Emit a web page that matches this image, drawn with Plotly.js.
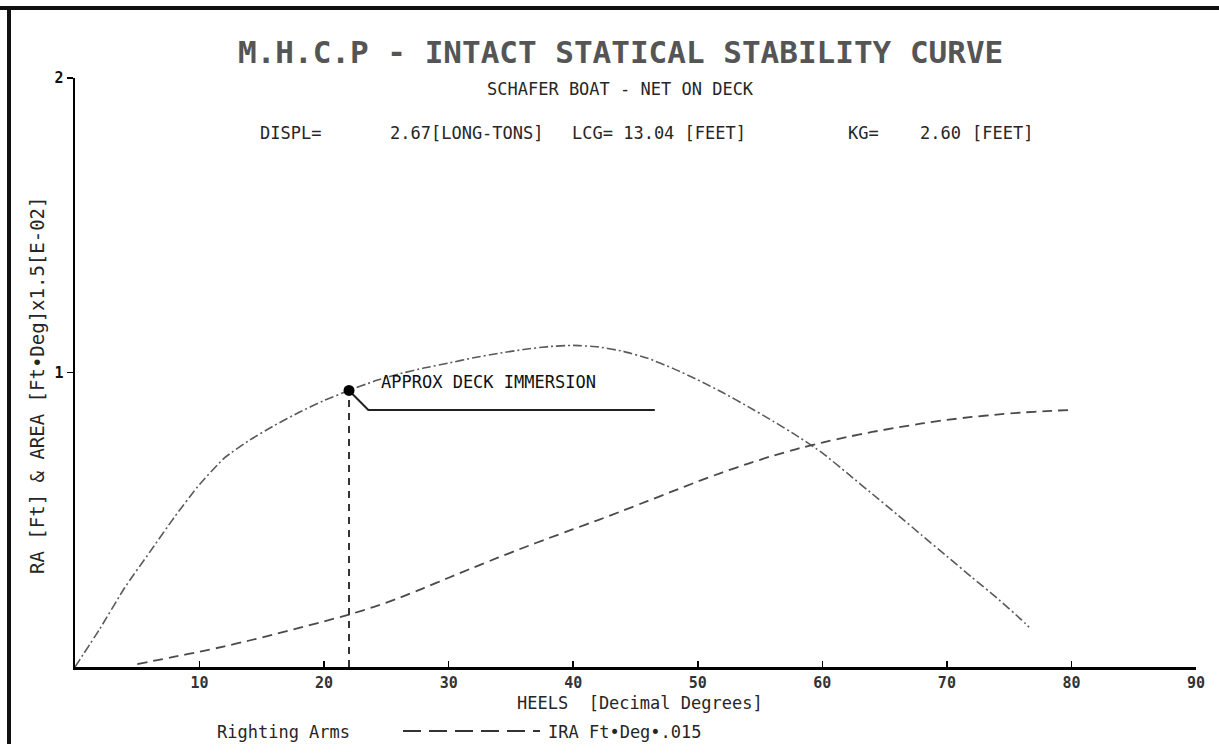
<!DOCTYPE html>
<html>
<head>
<meta charset="utf-8">
<script src="https://cdn.plot.ly/plotly-3.0.1.min.js"></script>
<style>
  html, body { margin: 0; padding: 0; background: #fff; }
  #wrap { position: relative; width: 1219px; height: 753px; overflow: hidden; }
  #chart { width: 1219px; height: 753px; }
  .frameTop { position: absolute; left: 0; top: 6px; width: 1219px; height: 4px; background: #111; }
  .frameLeft { position: absolute; left: 7px; top: 6px; width: 4px; height: 738px; background: #111; }
</style>
</head>
<body>
<div id="wrap">
  <div id="chart"></div>
  <div class="frameTop"></div>
  <div class="frameLeft"></div>
</div>
<script>
// ---------- data ----------
const raDeg = [0,2,4,6,8,10,12,14,16,18,20,22,24,26,28,30,32,34,36,38,40,42,44,46,48,50,52,54,56,58,60,62,64,66,68,70,72,74,76,76.6];
const raVal = [0,0.13,0.27,0.39,0.51,0.62,0.71,0.77,0.82,0.865,0.905,0.939,0.97,0.995,1.015,1.032,1.05,1.065,1.078,1.088,1.092,1.087,1.072,1.048,1.014,0.975,0.932,0.885,0.836,0.784,0.727,0.658,0.588,0.518,0.447,0.376,0.305,0.235,0.16,0.135];

const iraDeg = [5,8,10,12,14,16,18,20,22,24,26,28,30,32,34,36,38,40,42,44,46,48,50,52,54,56,58,60,62,64,66,68,70,72,74,76,78,80];
const iraVal = [0.01,0.035,0.052,0.07,0.09,0.111,0.133,0.155,0.178,0.204,0.234,0.268,0.303,0.338,0.372,0.405,0.437,0.468,0.499,0.531,0.564,0.597,0.63,0.661,0.69,0.717,0.741,0.762,0.781,0.798,0.813,0.827,0.839,0.849,0.857,0.864,0.869,0.873];

const deckDeg = 22;
const deckRA = 0.939;
const leaderX = [22, 23.55, 46.55];
const leaderY = [0.939, 0.873, 0.873];

const xTickVals = [10,20,30,40,50,60,70,80,90];
const xTickText = ['10','20','30','40','50','60','70','80','90'];
const yTickVals = [1,2];
const yTickText = ['1','2'];

const titleText = 'M.H.C.P - INTACT STATICAL STABILITY CURVE';
const subtitleText = 'SCHAFER BOAT - NET ON DECK';
const infoLabels = ['DISPL=', '2.67[LONG-TONS]', 'LCG= 13.04 [FEET]', 'KG=', '2.60', '[FEET]'];
const xTitleText = 'HEELS  [Decimal Degrees]';
const yTitleText = 'RA [Ft] &amp; AREA [Ft•Deg]x1.5[E-02]';
const deckLabel = 'APPROX DECK IMMERSION';
const legendRA = 'Righting Arms';
const legendIRA = 'IRA Ft•Deg•.015';

// ---------- layout helpers ----------
const W = 1219, H = 753;
const mL = 75, mR = 23, mT = 78, mB = 86;
const pw = W - mL - mR, ph = H - mT - mB;
const px = x => (x - mL) / pw;          // page px -> paper x
const py = y => (H - mB - y) / ph;      // page px -> paper y

const FONT = '"DejaVu Sans Mono", "Liberation Mono", monospace';
const txt = '#262626';

const traces = [
  { x: raDeg, y: raVal, type: 'scatter', mode: 'lines', name: legendRA,
    line: { color: '#5a5a5a', width: 1.6, dash: '9px,3px,2px,3px', shape: 'spline', smoothing: 0.5 },
    hoverinfo: 'skip' },
  { x: iraDeg, y: iraVal, type: 'scatter', mode: 'lines', name: legendIRA,
    line: { color: '#4a4a4a', width: 1.8, dash: '10px,6px', shape: 'spline', smoothing: 0.5 },
    hoverinfo: 'skip' },
  { x: [deckDeg, deckDeg], y: [0, deckRA], type: 'scatter', mode: 'lines',
    line: { color: '#333', width: 2, dash: '7px,6px' }, hoverinfo: 'skip' },
  { x: leaderX, y: leaderY, type: 'scatter', mode: 'lines',
    line: { color: '#222', width: 2 }, hoverinfo: 'skip' },
  { x: [deckDeg], y: [deckRA], type: 'scatter', mode: 'markers',
    marker: { color: '#000', size: 11 }, hoverinfo: 'skip' }
];

const infoX = [258, 388, 570, 846, 918, 970];
const annotations = [
  { text: '<b>' + titleText + '</b>', x: px(620), y: py(52), xref: 'paper', yref: 'paper', showarrow: false,
    xanchor: 'center', yanchor: 'middle', font: { family: FONT, size: 31, color: '#555' } },
  { text: subtitleText, x: px(620), y: py(89), xref: 'paper', yref: 'paper', showarrow: false,
    xanchor: 'center', yanchor: 'middle', font: { family: FONT, size: 17, color: txt } },
  { text: xTitleText, x: px(640), y: py(703), xref: 'paper', yref: 'paper', showarrow: false,
    xanchor: 'center', yanchor: 'middle', font: { family: FONT, size: 17, color: txt } },
  { text: yTitleText, x: px(37), y: py(385), xref: 'paper', yref: 'paper', showarrow: false,
    textangle: -90, xanchor: 'center', yanchor: 'middle', font: { family: FONT, size: 19, color: txt } },
  { text: deckLabel, x: 24.4, y: 0.969, xref: 'x', yref: 'y', showarrow: false,
    xanchor: 'left', yanchor: 'middle', font: { family: FONT, size: 17, color: '#111' } },
  { text: legendRA, x: px(215), y: py(732), xref: 'paper', yref: 'paper', showarrow: false,
    xanchor: 'left', yanchor: 'middle', font: { family: FONT, size: 17, color: txt } },
  { text: legendIRA, x: px(546), y: py(732), xref: 'paper', yref: 'paper', showarrow: false,
    xanchor: 'left', yanchor: 'middle', font: { family: FONT, size: 17, color: txt } }
];
infoLabels.forEach((t, i) => annotations.push({
  text: t, x: px(infoX[i]), y: py(133), xref: 'paper', yref: 'paper', showarrow: false,
  xanchor: 'left', yanchor: 'middle', font: { family: FONT, size: 17, color: txt }
}));

const shapes = [
  { type: 'line', xref: 'paper', yref: 'paper', x0: px(403), x1: px(540), y0: py(731), y1: py(731),
    line: { color: '#333', width: 2, dash: '18px,8px' } }
];

const layout = {
  width: W, height: H,
  margin: { l: mL, r: mR, t: mT, b: mB, pad: 0 },
  paper_bgcolor: '#fff', plot_bgcolor: '#fff',
  showlegend: false,
  xaxis: {
    range: [0, 90], showgrid: false, zeroline: false,
    showline: true, linecolor: '#000', linewidth: 3,
    tickvals: xTickVals, ticktext: xTickText,
    ticks: 'inside', ticklen: 6, tickwidth: 1.5, tickcolor: '#000',
    tickfont: { family: FONT, size: 15, color: '#333', weight: 'bold' }
  },
  yaxis: {
    range: [0, 2], showgrid: false, zeroline: false,
    showline: true, linecolor: '#000', linewidth: 2.5,
    tickvals: yTickVals, ticktext: yTickText,
    ticks: 'outside', ticklen: 6, tickwidth: 1.5, tickcolor: '#000',
    tickfont: { family: FONT, size: 15, color: '#111', weight: 'bold' }
  },
  annotations: annotations,
  shapes: shapes
};

Plotly.newPlot('chart', traces, layout, { staticPlot: true, displayModeBar: false });
</script>
</body>
</html>
